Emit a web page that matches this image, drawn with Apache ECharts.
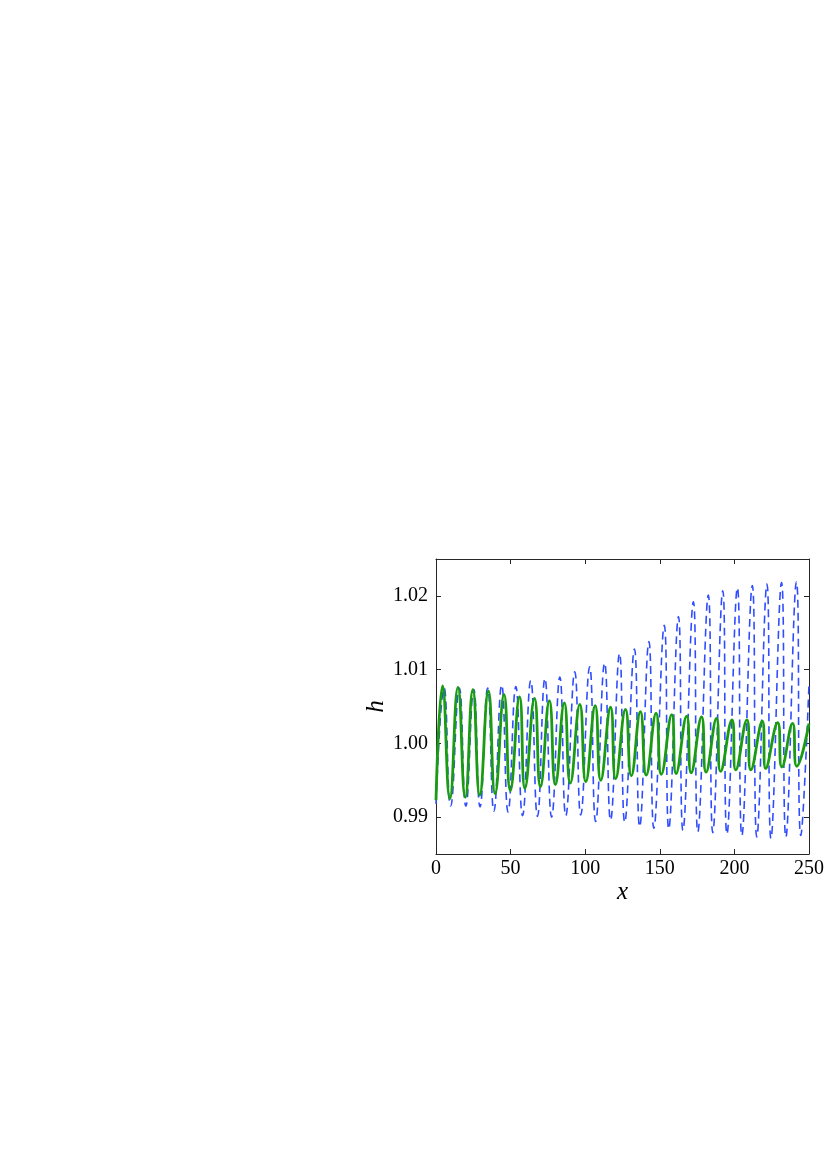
<!DOCTYPE html>
<html>
<head>
<meta charset="utf-8">
<script src="https://cdn.jsdelivr.net/npm/echarts@6/dist/echarts.min.js"></script>
<style>
html,body{margin:0;padding:0;background:#fff;}
#chart{width:827px;height:1168px;}
</style>
</head>
<body>
<div id="chart"></div>
<script>
const greenX = [0, 4.4, 9.3, 14.7, 19.6, 24.7, 29.3, 35.1, 39.6, 45.6, 49.8, 56, 59.6, 66, 70, 76, 80, 86, 90, 96.4, 100.4, 106.7, 110.4, 117, 120.4, 127, 130.9, 137, 140.9, 147.5, 151, 158, 160.9, 168, 171, 178, 181, 188, 190.7, 198.4, 200.9, 208.4, 211, 218.7, 221, 229, 231.8, 239, 241.8, 250];
const greenY = [0.9923, 1.0078, 0.9925, 1.0076, 0.9927, 1.0073, 0.9930, 1.0071, 0.9932, 1.0066, 0.9936, 1.0063, 0.9939, 1.0061, 0.9941, 1.0058, 0.9944, 1.0055, 0.9946, 1.0053, 0.9948, 1.0051, 0.9950, 1.0049, 0.9952, 1.0046, 0.9956, 1.0043, 0.9957, 1.0041, 0.9958, 1.0039, 0.9959, 1.0037, 0.9960, 1.0036, 0.9961, 1.0034, 0.9962, 1.0032, 0.9964, 1.0032, 0.9964, 1.0030, 0.9966, 1.0028, 0.9968, 1.0027, 0.9969, 1.0027];

const blueX = [0, 5.4, 9.8, 15.6, 20, 25.3, 29.5, 34.6, 38.8, 44, 48.3, 53.5, 58, 63.5, 68, 73, 77.5, 83, 87, 93, 97, 103, 107, 113, 117, 123, 126.5, 133, 136.5, 142.7, 146, 153, 156, 162.5, 165.5, 172.5, 175.5, 182.5, 185.5, 192.2, 195, 202, 205, 212, 215, 221.8, 224.5, 231.6, 234.5, 241.6, 244.5, 250];
const blueY = [0.9918, 1.0075, 0.9915, 1.0075, 0.9915, 1.0073, 0.9914, 1.0075, 0.9908, 1.0079, 0.9907, 1.0077, 0.9902, 1.0085, 0.9901, 1.0088, 0.9900, 1.0090, 0.9902, 1.0097, 0.9903, 1.0104, 0.9894, 1.0109, 0.9896, 1.0122, 0.9893, 1.0128, 0.9887, 1.0138, 0.9885, 1.0160, 0.9884, 1.0172, 0.9882, 1.0192, 0.9880, 1.0201, 0.9879, 1.0207, 0.9877, 1.0211, 0.9875, 1.0214, 0.9873, 1.0216, 0.9871, 1.0218, 0.9873, 1.0219, 0.9875, 1.0080];

const yTicks = [0.99, 1.00, 1.01, 1.02];
const xTicks = [0, 50, 100, 150, 200, 250];

const FONT = '"Liberation Serif", "DejaVu Serif", serif';
const AX = '#262626';

const chart = echarts.init(document.getElementById('chart'), null, {renderer: 'canvas'});

function xAxisCfg(pos, labels) {
  return {
    type: 'value', position: pos, min: 0, max: 250, interval: 50,
    axisLine: {show: true, onZero: false, lineStyle: {color: AX, width: 1}},
    axisTick: {show: true, inside: true, length: 5, lineStyle: {color: AX}},
    axisLabel: {show: labels, color: '#000', fontFamily: FONT, fontSize: 20, margin: 5},
    splitLine: {show: false},
    name: labels ? 'x' : '', nameLocation: 'middle', nameGap: 15,
    nameTextStyle: {color: '#000', fontFamily: FONT, fontSize: 25, fontStyle: 'italic'}
  };
}
function yAxisCfg(pos, labels) {
  return {
    type: 'value', position: pos, min: 0.985, max: 1.025,
    axisLine: {show: true, onZero: false, lineStyle: {color: AX, width: 1}},
    axisTick: {show: true, inside: true, length: 5, lineStyle: {color: AX}, customValues: yTicks},
    axisLabel: {show: labels, color: '#000', fontFamily: FONT, fontSize: 20, margin: 8,
      customValues: yTicks, formatter: v => v.toFixed(2)},
    splitLine: {show: false},
    name: labels ? 'h' : '', nameLocation: 'middle', nameGap: 43, nameRotate: 90,
    nameTextStyle: {color: '#000', fontFamily: FONT, fontSize: 25, fontStyle: 'italic'}
  };
}

chart.setOption({
  animation: false,
  backgroundColor: '#fff',
  grid: {left: 436, right: 15, top: 559, bottom: 314, containLabel: false},
  xAxis: [xAxisCfg('bottom', true), xAxisCfg('top', false)],
  yAxis: [yAxisCfg('left', true), yAxisCfg('right', false)],
  series: [
    {
      type: 'line', xAxisIndex: 0, yAxisIndex: 0,
      data: blueX.map((x, i) => [x, blueY[i]]),
      showSymbol: false, smooth: true,
      lineStyle: {color: '#2f4dff', width: 1.6, type: [8, 5]}
    },
    {
      type: 'line', xAxisIndex: 0, yAxisIndex: 0,
      data: greenX.map((x, i) => [x, greenY[i]]),
      showSymbol: false, smooth: true,
      lineStyle: {color: '#1a9c12', width: 2.8}
    }
  ]
});
</script>
</body>
</html>
